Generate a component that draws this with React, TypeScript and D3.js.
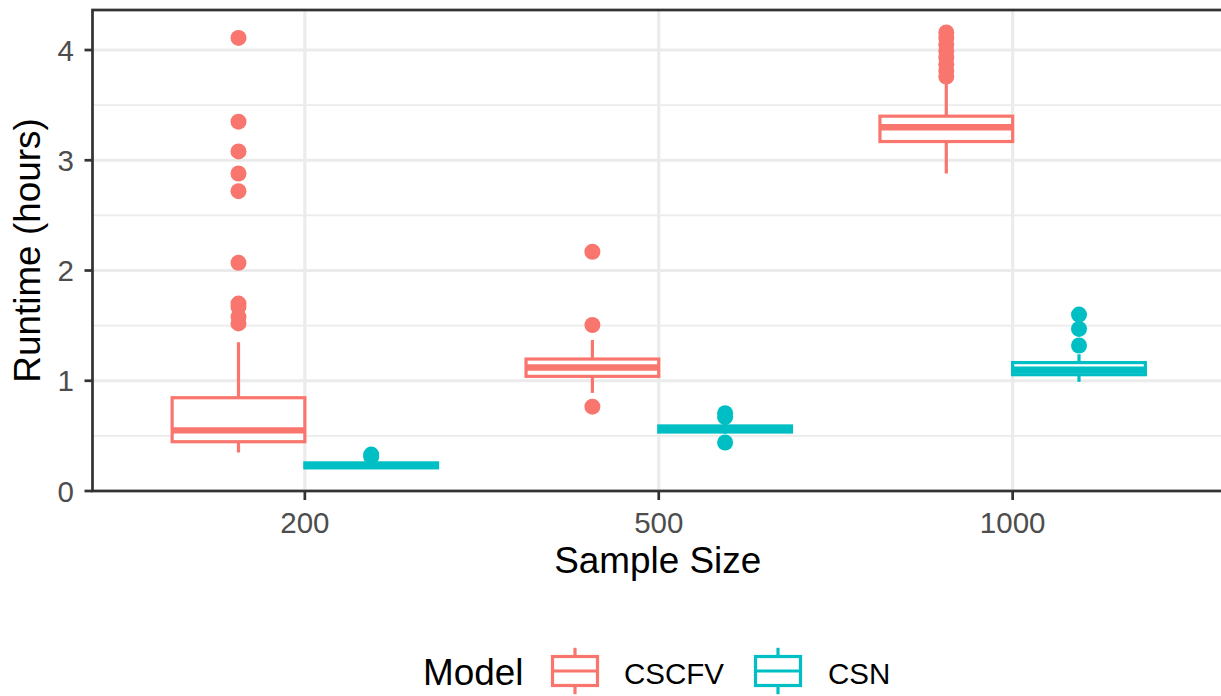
import React from "react";
import * as d3 from "d3";

// Sample sizes on the x axis and the two models compared
const sampleSizes = ["200", "500", "1000"];
const models = ["CSCFV", "CSN"];
const modelColors = ["#F8766D", "#00BFC4"];

// Box statistics per sample size (hours)
const cscfvLower = [0.35, 0.89, 2.88];
const cscfvQ1 = [0.447, 1.04, 3.17];
const cscfvMedian = [0.55, 1.12, 3.3];
const cscfvQ3 = [0.846, 1.197, 3.4];
const cscfvUpper = [1.35, 1.37, 3.7];
const cscfvOutliers = [
  [4.11, 3.35, 3.08, 2.88, 2.72, 2.07, 1.7, 1.67, 1.58, 1.52],
  [2.17, 1.506, 0.765],
  [4.16, 4.11, 4.05, 3.99, 3.93, 3.87, 3.81, 3.76],
];

const csnLower = [0.205, 0.52, 0.99];
const csnQ1 = [0.21, 0.535, 1.055];
const csnMedian = [0.23, 0.56, 1.1];
const csnQ3 = [0.255, 0.59, 1.165];
const csnUpper = [0.26, 0.61, 1.24];
const csnOutliers = [
  [0.31, 0.33],
  [0.705, 0.67, 0.44],
  [1.6, 1.47, 1.32],
];

const yTicks = [0, 1, 2, 3, 4];
const yMinorTicks = [0.5, 1.5, 2.5, 3.5];

const W = 1221;
const H = 696;
const panel = { left: 92.5, right: 1225, top: 10, bottom: 491 };
const FONT = "'Liberation Sans', Arial, Helvetica, sans-serif";
const grid = "#EBEBEB";
const dark = "#333333";
const LW = 3.2;

type BoxStat = {
  cat: number;
  model: number;
  lower: number;
  q1: number;
  median: number;
  q3: number;
  upper: number;
  outliers: number[];
};

const boxes: BoxStat[] = [];
sampleSizes.forEach((_, i) => {
  boxes.push({
    cat: i,
    model: 0,
    lower: cscfvLower[i],
    q1: cscfvQ1[i],
    median: cscfvMedian[i],
    q3: cscfvQ3[i],
    upper: cscfvUpper[i],
    outliers: cscfvOutliers[i],
  });
  boxes.push({
    cat: i,
    model: 1,
    lower: csnLower[i],
    q1: csnQ1[i],
    median: csnMedian[i],
    q3: csnQ3[i],
    upper: csnUpper[i],
    outliers: csnOutliers[i],
  });
});

export default function App() {
  const x = d3
    .scaleLinear()
    .domain([0.4, sampleSizes.length + 0.6])
    .range([panel.left, panel.right]);
  const y = d3.scaleLinear().domain([0, 4.363]).range([panel.bottom, panel.top]);

  const dodge = 0.1875;
  const halfBox = 0.1875;

  return (
    <svg
      width={W}
      height={H}
      style={{ position: "absolute", left: 0, top: 0, background: "#fff" }}
      fontFamily={FONT}
    >
      <defs>
        <clipPath id="panel-clip">
          <rect
            x={panel.left}
            y={panel.top}
            width={panel.right - panel.left}
            height={panel.bottom - panel.top}
          />
        </clipPath>
      </defs>
      <rect x={0} y={0} width={W} height={H} fill="#fff" />

      <g clipPath="url(#panel-clip)">
        {/* grid */}
        {yMinorTicks.map((t) => (
          <line
            key={"mn" + t}
            x1={panel.left}
            x2={panel.right}
            y1={y(t)}
            y2={y(t)}
            stroke={grid}
            strokeWidth={LW / 2}
          />
        ))}
        {yTicks.map((t) => (
          <line
            key={"mj" + t}
            x1={panel.left}
            x2={panel.right}
            y1={y(t)}
            y2={y(t)}
            stroke={grid}
            strokeWidth={LW}
          />
        ))}
        {sampleSizes.map((s, i) => (
          <line
            key={"vx" + s}
            x1={x(i + 1)}
            x2={x(i + 1)}
            y1={panel.top}
            y2={panel.bottom}
            stroke={grid}
            strokeWidth={LW}
          />
        ))}

        {/* boxplots */}
        {boxes.map((b, k) => {
          const pos = b.cat + 1 + (b.model === 0 ? -dodge : dodge);
          const cx = x(pos);
          const x0 = x(pos - halfBox);
          const x1 = x(pos + halfBox);
          const col = modelColors[b.model];
          return (
            <g key={k}>
              {b.outliers.map((o, j) => (
                <circle key={j} cx={cx} cy={y(o)} r={8} fill={col} />
              ))}
              <line x1={cx} x2={cx} y1={y(b.q3)} y2={y(b.upper)} stroke={col} strokeWidth={LW} />
              <line x1={cx} x2={cx} y1={y(b.q1)} y2={y(b.lower)} stroke={col} strokeWidth={LW} />
              <rect
                x={x0}
                y={y(b.q3)}
                width={x1 - x0}
                height={y(b.q1) - y(b.q3)}
                fill="#fff"
                stroke={col}
                strokeWidth={LW}
              />
              <line
                x1={x0}
                x2={x1}
                y1={y(b.median)}
                y2={y(b.median)}
                stroke={col}
                strokeWidth={LW * 2}
              />
            </g>
          );
        })}
      </g>

      {/* panel border */}
      <rect
        x={panel.left}
        y={panel.top}
        width={panel.right - panel.left}
        height={panel.bottom - panel.top}
        fill="none"
        stroke={dark}
        strokeWidth={LW * 0.85}
      />

      {/* y axis */}
      {yTicks.map((t) => (
        <g key={"yt" + t}>
          <line x1={panel.left - 8} x2={panel.left} y1={y(t)} y2={y(t)} stroke={dark} strokeWidth={LW * 0.85} />
          <text
            x={74}
            y={y(t)}
            dy="0.36em"
            textAnchor="end"
            fontSize={29.5}
            fill="#4D4D4D"
          >
            {t}
          </text>
        </g>
      ))}

      {/* x axis */}
      {sampleSizes.map((s, i) => (
        <g key={"xt" + s}>
          <line x1={x(i + 1)} x2={x(i + 1)} y1={panel.bottom} y2={panel.bottom + 9} stroke={dark} strokeWidth={LW * 0.85} />
          <text x={x(i + 1)} y={533} textAnchor="middle" fontSize={29.5} fill="#4D4D4D">
            {s}
          </text>
        </g>
      ))}

      {/* axis titles */}
      <text x={(92.5 + 1221) / 2 + 1} y={573} textAnchor="middle" fontSize={36.9} fill="#000">
        Sample Size
      </text>
      <text
        transform={`translate(39.5, ${(panel.top + panel.bottom) / 2}) rotate(-90)`}
        textAnchor="middle"
        fontSize={36.9}
        fill="#000"
      >
        Runtime (hours)
      </text>

      {/* legend */}
      <text x={423} y={684.5} fontSize={36.9} fill="#000">
        Model
      </text>
      {models.map((m, i) => {
        const kx = [575, 778][i];
        const col = modelColors[i];
        const top = 656.5;
        const bot = 685.5;
        const mid = (top + bot) / 2;
        return (
          <g key={m}>
            <line x1={kx} x2={kx} y1={647.8} y2={top} stroke={col} strokeWidth={LW} />
            <line x1={kx} x2={kx} y1={bot} y2={694.2} stroke={col} strokeWidth={LW} />
            <rect x={kx - 22.5} y={top} width={45} height={bot - top} fill="#fff" stroke={col} strokeWidth={LW} />
            <line x1={kx - 22.5} x2={kx + 22.5} y1={mid} y2={mid} stroke={col} strokeWidth={LW} />
            <text x={[624, 828][i]} y={683.5} fontSize={29.5} fill="#000">
              {m}
            </text>
          </g>
        );
      })}
    </svg>
  );
}
